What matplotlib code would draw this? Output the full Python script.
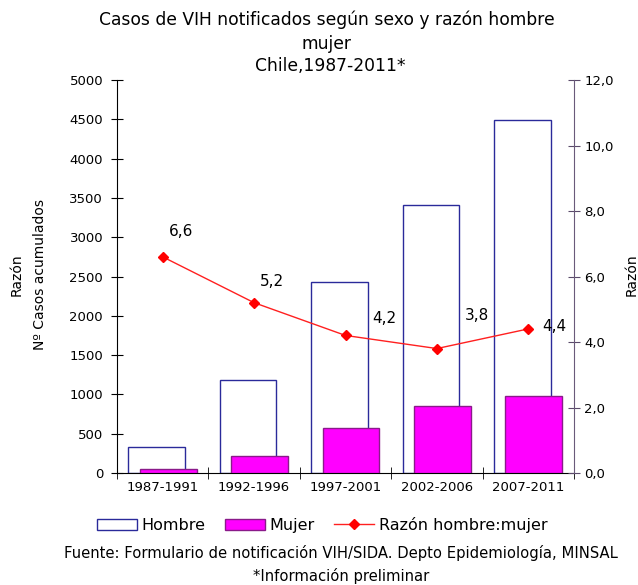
import matplotlib
matplotlib.use("Agg")
import matplotlib.pyplot as plt
import numpy as np

periodos = ["1987-1991", "1992-1996", "1997-2001", "2002-2006", "2007-2011"]
hombre = [330, 1180, 2430, 3410, 4490]
mujer = [50, 215, 575, 855, 980]
razon = [6.6, 5.2, 4.2, 3.8, 4.4]
razon_txt = ["6,6", "5,2", "4,2", "3,8", "4,4"]
# label offsets (pixels) per point
lbl_dx = [18, 18, 39, 40, 26]
lbl_dy = [25, 21, 17, 33, 2]

plt.rcParams['font.family'] = ['DejaVu Sans']

fig = plt.figure(figsize=(6.38, 5.85), dpi=100)
ax = fig.add_axes([117/638, 1 - 473/585, (574-117)/638, (473-80)/585])

x = np.arange(len(periodos))
w = 0.62
bh = ax.bar(x - 0.065, hombre, w, facecolor='white', edgecolor='#2a2a9a', linewidth=1.0, zorder=2)
bm = ax.bar(x + 0.06, mujer, w, facecolor='#ff00ff', edgecolor='#8a1a8a', linewidth=1.0, zorder=3)

ax.set_xlim(-0.5, len(periodos) - 0.5)
ax.set_ylim(0, 5000)
ax.set_yticks(np.arange(0, 5001, 500))
ax.tick_params(axis='y', direction='inout', length=8, labelsize=9.5, pad=6)
ax.set_xticks(x)
ax.set_xticklabels(periodos, fontsize=9.5)
ax.tick_params(axis='x', length=0, pad=6)
ax.set_xticks(np.arange(-0.5, len(periodos), 1), minor=True)
ax.tick_params(axis='x', which='minor', direction='inout', length=8)
ax.spines['top'].set_visible(False)
ax.spines['right'].set_visible(False)

ax2 = ax.twinx()
ax2.set_ylim(0, 12)
ax2.set_yticks(np.arange(0, 12.1, 2))
ax2.set_yticklabels([f"{v:.1f}".replace('.', ',') for v in np.arange(0, 12.1, 2)], fontsize=9.5)
ax2.tick_params(axis='y', direction='inout', length=8, color='#5a4a6a')
ax2.spines['right'].set_color('#6a5a7a')
ax2.spines['top'].set_visible(False)
ax2.spines['left'].set_visible(False)
ax2.spines['bottom'].set_visible(False)
ln, = ax2.plot(x, razon, color='#ff2020', linewidth=1.0, marker='D', markersize=5,
               markerfacecolor='#ff0000', markeredgecolor='#ff0000', zorder=5)
for xi, yi, t, dx, dy in zip(x, razon, razon_txt, lbl_dx, lbl_dy):
    ax2.annotate(t, (xi, yi), xytext=(dx * 0.72, dy * 0.72), textcoords='offset points',
                 ha='center', va='center', fontsize=11)

fig.text(327/638, 1 - 20/585, "Casos de VIH notificados según sexo y razón hombre", ha='center', va='center', fontsize=12.3)
fig.text(327/638, 1 - 44/585, "mujer", ha='center', va='center', fontsize=12.3)
fig.text(330/638, 1 - 66/585, "Chile,1987-2011*", ha='center', va='center', fontsize=12.3)

fig.text(17/638, 1 - 275/585, "Razón", rotation=90, ha='center', va='center', fontsize=10)
fig.text(40/638, 1 - 275/585, "Nº Casos acumulados", rotation=90, ha='center', va='center', fontsize=10)
fig.text(632/638, 1 - 275/585, "Razón", rotation=90, ha='center', va='center', fontsize=10)

fig.legend([bh, bm, ln], ["Hombre", "Mujer", "Razón hombre:mujer"], loc='center',
           bbox_to_anchor=(0.505, 1 - 525/585), ncol=3, frameon=False, fontsize=11.5,
           handlelength=2.5, columnspacing=1.2, handletextpad=0.3)

fig.text(341/638, 1 - 553/585, "Fuente: Formulario de notificación VIH/SIDA. Depto Epidemiología, MINSAL",
         ha='center', va='center', fontsize=10.6)
fig.text(341/638, 1 - 576/585, "*Información preliminar", ha='center', va='center', fontsize=10.6)

fig.savefig("out.png", dpi=100)
